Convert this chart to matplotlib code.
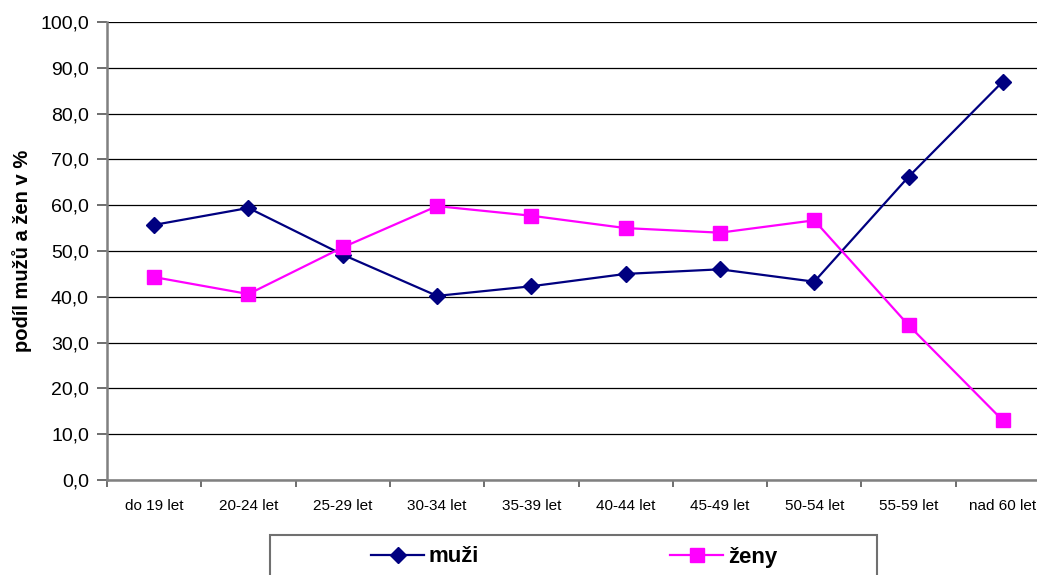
import numpy as np
import matplotlib.pyplot as plt
from matplotlib.patches import Rectangle
from matplotlib.ticker import FuncFormatter, FixedLocator

plt.rcParams['font.family'] = ['Liberation Sans', 'DejaVu Sans']

CATEGORIES = ["do 19 let", "20-24 let", "25-29 let", "30-34 let", "35-39 let",
              "40-44 let", "45-49 let", "50-54 let", "55-59 let", "nad 60 let"]
MUZI = [55.7, 59.4, 49.2, 40.2, 42.3, 45.0, 46.0, 43.3, 66.2, 87.0]
ZENY = [44.3, 40.6, 50.8, 59.8, 57.7, 55.0, 54.0, 56.7, 33.8, 13.0]

fig = plt.figure(figsize=(10.37, 5.75), dpi=100)
# plot area runs a little past the right edge of the picture
ax = fig.add_axes([107 / 1037, 1 - 480 / 575, 943 / 1037, (480 - 22) / 575])

x = np.arange(len(CATEGORIES))
ax.plot(x, MUZI, color="#000080", lw=1.6, marker="D", ms=8, label="muži", zorder=3)
ax.plot(x, ZENY, color="#FF00FF", lw=1.6, marker="s", ms=10, label="ženy", zorder=3)

ax.set_xlim(-0.5, len(CATEGORIES) - 0.5)
ax.set_ylim(0, 100)
ax.set_yticks(np.arange(0, 101, 10))
ax.yaxis.set_major_formatter(FuncFormatter(lambda v, p: f"{v:.1f}".replace(".", ",")))
ax.set_xticks(x)
ax.set_xticklabels(CATEGORIES, fontsize=11)
ax.xaxis.set_minor_locator(FixedLocator(np.arange(-0.5, len(CATEGORIES), 1.0)))
ax.tick_params(axis="x", which="major", length=0, pad=14)
ax.tick_params(axis="x", which="minor", length=5, width=1.2, color="#555555")
ax.tick_params(axis="y", length=7, width=1.2, color="#555555", labelsize=14, pad=6)

ax.grid(axis="y", color="black", lw=0.9)
ax.set_axisbelow(True)
for s in ["top", "right"]:
    ax.spines[s].set_visible(False)
for s in ["left", "bottom"]:
    ax.spines[s].set_color("#808080")
    ax.spines[s].set_linewidth(1.8)

ax.set_ylabel("podíl mužů a žen v %", fontsize=14.5, fontweight="bold", labelpad=6)

# legend box (runs off the bottom edge)
fig.patches.append(Rectangle((270 / 1037, 1 - 585 / 575), 607 / 1037, 50 / 575,
                             transform=fig.transFigure, fill=False,
                             edgecolor="#707070", lw=1.5))
fig.legend(loc="center", bbox_to_anchor=(574 / 1037, 1 - 557 / 575), ncol=2,
           frameon=False, prop={"size": 16, "weight": "bold"},
           handlelength=2.4, handletextpad=0.2, columnspacing=8.6)

fig.savefig("out.png", dpi=100)
